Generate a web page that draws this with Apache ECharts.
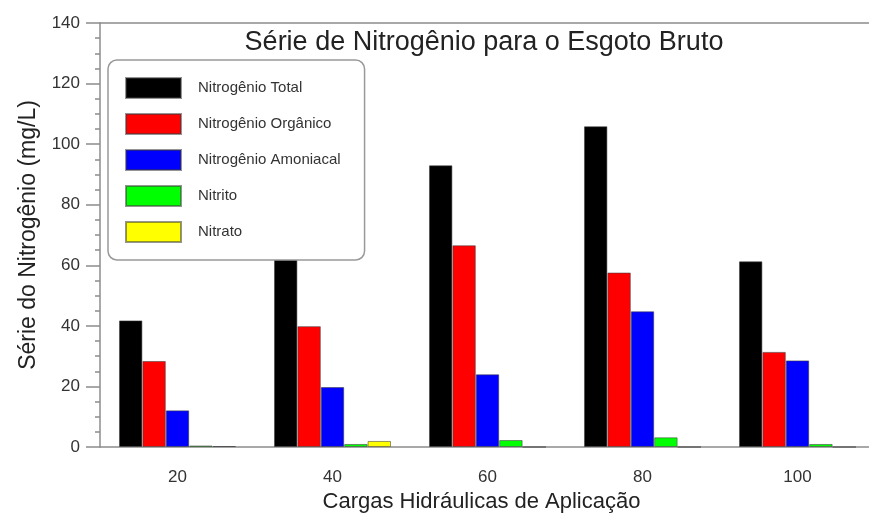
<!DOCTYPE html>
<html>
<head>
<meta charset="utf-8">
<title>Série de Nitrogênio para o Esgoto Bruto</title>
<script src="https://cdn.jsdelivr.net/npm/echarts@6/dist/echarts.min.js"></script>
<style>
  html, body { margin: 0; padding: 0; background: #fff; overflow: hidden; }
  #chart { width: 869px; height: 516px; }
</style>
</head>
<body>
<div id="chart"></div>
<script>
// cargas hidraulicas (eixo x)
var cargas = ['20', '40', '60', '80', '100'];

// valores (mg/L)
var nitrogenioTotal     = [41.8, 62.7, 93.0, 105.9, 61.3];
var nitrogenioOrganico  = [28.4, 39.9, 66.6, 57.6, 31.4];
var nitrogenioAmoniacal = [12.1, 19.8, 24.0, 44.8, 28.6];
var nitrito             = [0.5, 1.0, 2.3, 3.2, 1.0];
var nitrato             = [0.3, 2.0, 0, 0, 0];

var nomes = ['Nitrogênio Total', 'Nitrogênio Orgânico', 'Nitrogênio Amoniacal', 'Nitrito', 'Nitrato'];
var cores = ['#000000', '#ff0000', '#0000ff', '#00ff00', '#ffff00'];
var dados = [nitrogenioTotal, nitrogenioOrganico, nitrogenioAmoniacal, nitrito, nitrato];

var fonte = '"Liberation Sans", Arial, sans-serif';
var cinza = '#8c8c8c';

var chart = echarts.init(document.getElementById('chart'));

var series = [];
nomes.forEach(function (nome, i) {
  series.push({
    name: nome,
    type: 'bar',
    data: dados[i],
    barGap: '0%',
    barCategoryGap: '24.5%',
    itemStyle: {
      color: cores[i],
      borderColor: 'rgba(60,60,60,0.55)',
      borderWidth: 1
    }
  });
});

chart.setOption({
  animation: false,
  textStyle: { fontFamily: fonte },
  title: {
    text: 'Série de Nitrogênio para o Esgoto Bruto',
    left: 479,
    textAlign: 'center',
    top: 24,
    textStyle: {
      fontFamily: fonte,
      fontSize: 27,
      fontWeight: 'normal',
      color: '#222'
    }
  },
  legend: {
    orient: 'vertical',
    left: 108,
    top: 60,
    padding: [17, 24, 17, 17],
    itemWidth: 55,
    itemHeight: 20,
    itemGap: 14,
    icon: 'rect',
    backgroundColor: '#fff',
    borderColor: '#999',
    borderWidth: 1.5,
    borderRadius: 9,
    textStyle: {
      fontFamily: fonte,
      fontSize: 15,
      color: '#333',
      padding: [0, 0, 0, 12]
    },
    data: nomes
  },
  grid: {
    left: 100,
    top: 23,
    width: 775,
    height: 424,
    containLabel: false,
    outerBoundsMode: 'none'
  },
  xAxis: [
    {
      type: 'category',
      data: cargas,
      name: 'Cargas Hidráulicas de Aplicação',
      nameLocation: 'middle',
      nameGap: 44,
      nameTextStyle: { fontFamily: fonte, fontSize: 22, color: '#222', padding: [0, 12, 0, 0] },
      axisLine: { lineStyle: { color: cinza, width: 1.5 } },
      axisTick: { alignWithLabel: true, length: 14, lineStyle: { color: cinza, width: 1.5 } },
      axisLabel: { margin: 22, fontSize: 17, color: '#333', fontFamily: fonte },
      splitLine: { show: false }
    },
    {
      type: 'category',
      data: cargas,
      position: 'bottom',
      axisLine: { show: false },
      axisTick: { alignWithLabel: false, length: 6, lineStyle: { color: cinza, width: 1.5 } },
      axisLabel: { show: false },
      splitLine: { show: false }
    },
    {
      type: 'category',
      data: cargas,
      position: 'top',
      axisLine: { lineStyle: { color: cinza, width: 1.5 } },
      axisTick: { show: false },
      axisLabel: { show: false },
      splitLine: { show: false }
    }
  ],
  yAxis: {
    type: 'value',
    min: 0,
    max: 140,
    interval: 20,
    name: 'Série do Nitrogênio (mg/L)',
    nameLocation: 'middle',
    nameGap: 60,
    nameTextStyle: { fontFamily: fonte, fontSize: 23, color: '#222' },
    axisLine: { show: true, lineStyle: { color: cinza, width: 1.5 } },
    axisTick: { show: true, length: 14, lineStyle: { color: cinza, width: 1.5 } },
    minorTick: { show: true, splitNumber: 4, length: 5, lineStyle: { color: cinza, width: 1.5 } },
    axisLabel: { margin: 20, fontSize: 17, color: '#333', fontFamily: fonte },
    splitLine: { show: false }
  },
  series: series
});
</script>
</body>
</html>
